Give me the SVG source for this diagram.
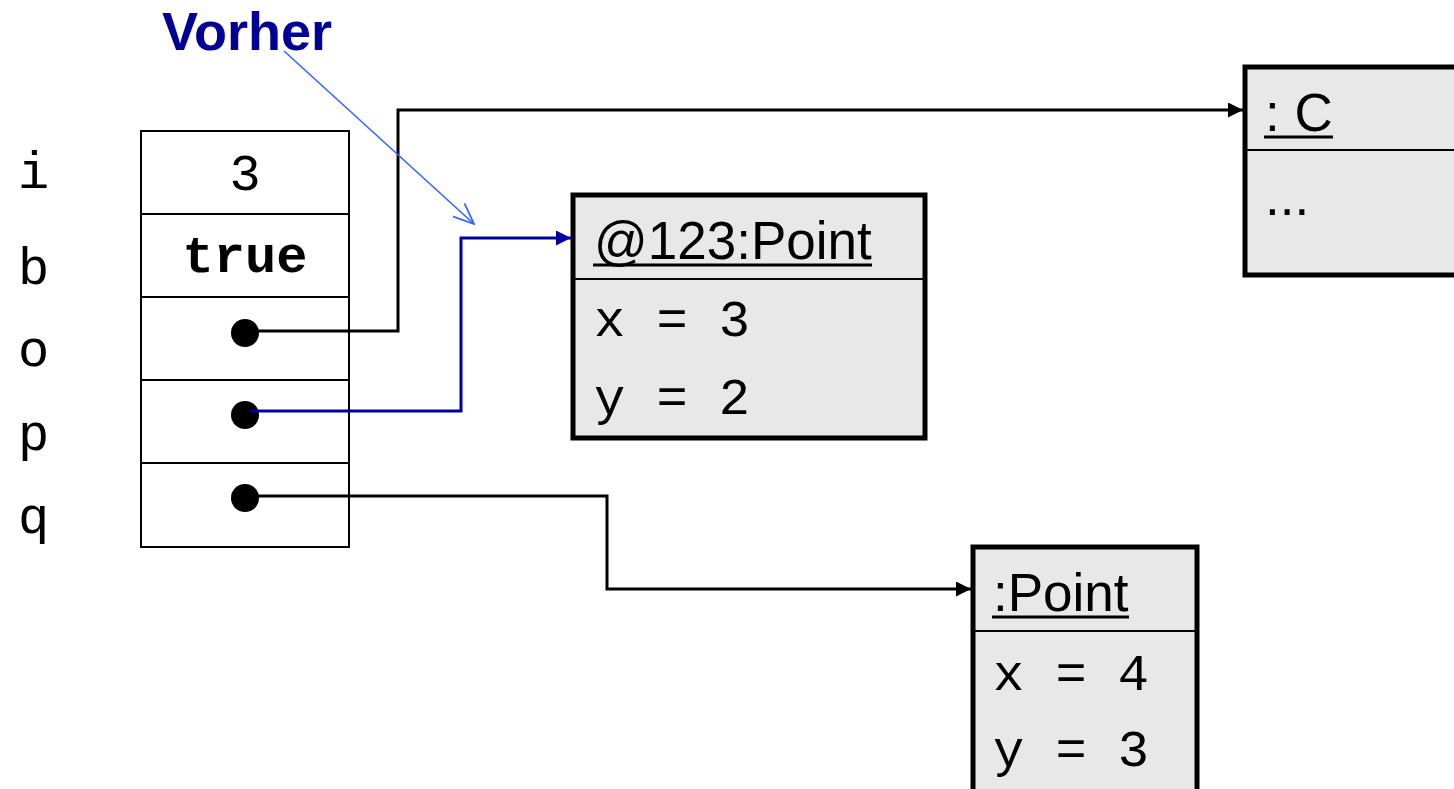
<svg xmlns="http://www.w3.org/2000/svg" width="1454" height="789" viewBox="0 0 1454 789">
<style>
.mono{font-family:"Liberation Mono","Courier New",monospace;font-size:52px;fill:#000}
.sans{font-family:"Liberation Sans",Arial,sans-serif;font-size:53px;fill:#000}
.cell{fill:#fff;stroke:#000;stroke-width:2}
.obj{fill:#e8e8e8;stroke:#000;stroke-width:5}
.div{stroke:#000;stroke-width:2}
.ul{stroke:#000;stroke-width:3}
.conn{fill:none;stroke:#000;stroke-width:3}
.connb{fill:none;stroke:#0000a0;stroke-width:3}
</style>
<defs>
<marker id="ah" viewBox="0 0 10 10" refX="10" refY="5" markerWidth="15" markerHeight="15" markerUnits="userSpaceOnUse" orient="auto"><path d="M0,0 L10,5 L0,10 z" fill="#000"/></marker>
<marker id="ahb" viewBox="0 0 10 10" refX="10" refY="5" markerWidth="15" markerHeight="15" markerUnits="userSpaceOnUse" orient="auto"><path d="M0,0 L10,5 L0,10 z" fill="#0000a0"/></marker>
<marker id="ahopen" viewBox="0 0 20 20" refX="19" refY="10" markerWidth="22" markerHeight="22" markerUnits="userSpaceOnUse" orient="auto"><path d="M0,2 L19,10 L0,18" fill="none" stroke="#3366ff" stroke-width="1.6"/></marker>
</defs>

<g id="labels">
<text class="mono" x="18" y="188">i</text>
<text class="mono" x="18" y="284">b</text>
<text class="mono" x="18" y="366">o</text>
<text class="mono" x="18" y="450">p</text>
<text class="mono" x="18" y="533">q</text>
</g>

<g id="stack">
<rect class="cell" x="141" y="131" width="208" height="83"/>
<rect class="cell" x="141" y="214" width="208" height="83"/>
<rect class="cell" x="141" y="297" width="208" height="83"/>
<rect class="cell" x="141" y="380" width="208" height="83"/>
<rect class="cell" x="141" y="463" width="208" height="84"/>
<text class="mono" x="245" y="190" text-anchor="middle">3</text>
<text class="mono" x="245" y="272" text-anchor="middle" font-weight="bold">true</text>
<circle cx="245" cy="333" r="14" fill="#000"/>
<circle cx="245" cy="415" r="14" fill="#000"/>
<circle cx="245" cy="498" r="14" fill="#000"/>
</g>

<g id="vorher">
<text x="162" y="50" font-family="Liberation Sans,Arial,sans-serif" font-size="54" font-weight="bold" fill="#000099">Vorher</text>
</g>

<g id="obj-point123">
<rect class="obj" x="573" y="195" width="352" height="243"/>
<line class="div" x1="573" y1="279" x2="925" y2="279"/>
<text class="sans" x="594" y="259">@123:Point</text>
<line class="ul" x1="593" y1="265" x2="872" y2="265"/>
<text class="mono" x="594" y="336" xml:space="preserve">x = 3</text>
<text class="mono" x="594" y="414" xml:space="preserve">y = 2</text>
</g>

<g id="obj-c">
<rect class="obj" x="1245" y="67" width="215" height="208"/>
<line class="div" x1="1245" y1="150" x2="1454" y2="150"/>
<text class="sans" x="1265" y="131">: C</text>
<line class="ul" x1="1264" y1="137" x2="1333" y2="137"/>
<text class="sans" x="1265" y="215">...</text>
</g>

<g id="obj-point">
<rect class="obj" x="973" y="547" width="224" height="250"/>
<line class="div" x1="973" y1="631" x2="1197" y2="631"/>
<text class="sans" x="993" y="611">:Point</text>
<line class="ul" x1="992" y1="617" x2="1129" y2="617"/>
<text class="mono" x="993" y="690" xml:space="preserve">x = 4</text>
<text class="mono" x="993" y="766" xml:space="preserve">y = 3</text>
</g>

<g id="connectors">
<polyline class="conn" points="245,331 398,331 398,110 1243,110" marker-end="url(#ah)"/>
<polyline class="connb" points="250,411 461,411 461,238 571,238" marker-end="url(#ahb)"/>
<polyline class="conn" points="245,496 607,496 607,589 971,589" marker-end="url(#ah)"/>
<line x1="284" y1="51" x2="474" y2="224" stroke="#3366ff" stroke-width="1.6" marker-end="url(#ahopen)"/>
</g>
</svg>
